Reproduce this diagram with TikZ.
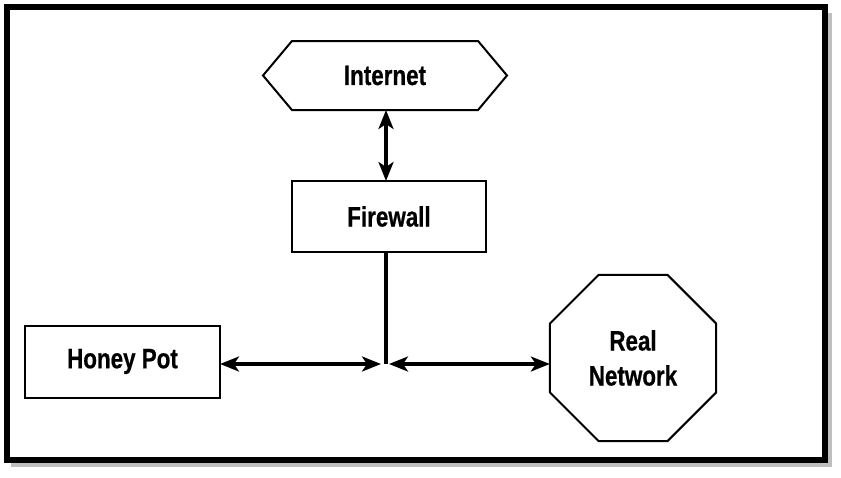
\documentclass[tikz,border=0pt]{standalone}
\usepackage{fontspec}
\setmainfont{Liberation Sans}[FakeStretch=0.8,FakeBold=0.6]
\usetikzlibrary{arrows.meta,shapes.geometric,shapes.symbols}
\tikzset{
  box/.style={draw, line width=2pt, inner sep=0pt, outer sep=0pt},
  lbl/.style={font=\fontsize{28}{35}\selectfont\bfseries},
  link/.style={line width=3.2pt, <->}
}
\begin{document}
\begin{tikzpicture}[x=1pt, y=-1pt, line join=miter, >={Stealth[length=19pt,width=15pt,inset=5pt]}]
\useasboundingbox (0,0) rectangle (841,477);
%Khung ngoài
\fill[black!25] (11,13) rectangle (832,467);
\fill[white] (10,10) rectangle (822,457);
\draw[line width=6pt] (7,7) rectangle (825,460);
%Các nút
\node[box, lbl, signal, signal to=east and west, signal pointer angle=100,
  minimum width=244pt, minimum height=69pt] (internet) at (385,75.5) {Internet};
\node[box, lbl, minimum width=194pt, minimum height=71pt] (firewall) at (389,216.5) {Firewall};
\node[box, lbl, minimum width=195pt, minimum height=72pt] (honeypot) at (122.5,361.5) {Honey Pot};
\node[box, lbl, regular polygon, regular polygon sides=8, minimum size=180pt,
  align=center] (realnet) at (633,358) {Real\\Network};
\coordinate (hub) at (386,364);
%Đường nối
\draw[link] (internet.south -| hub) -- (firewall.north -| hub);
\draw[line width=3.2pt] (firewall.south -| hub) -- (hub);
\draw[link] (honeypot.east |- hub) -- ([xshift=-5pt]hub);
\draw[link] ([xshift=3pt]hub) -- (realnet.west |- hub);
\end{tikzpicture}
\end{document}
